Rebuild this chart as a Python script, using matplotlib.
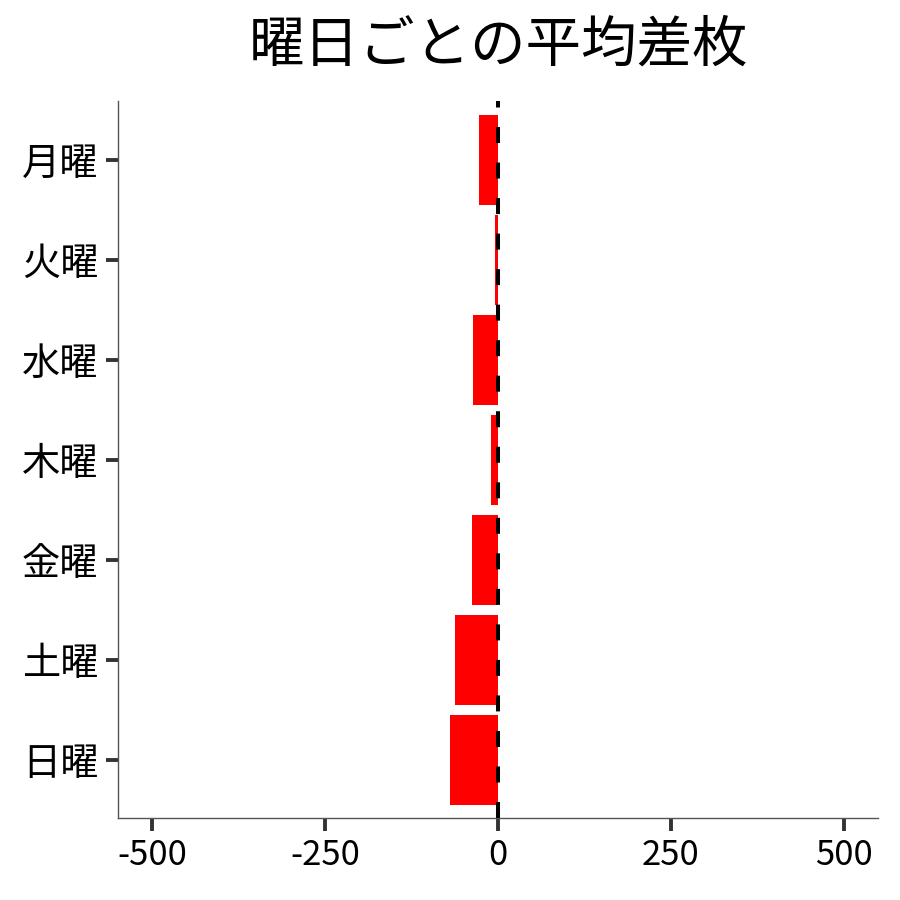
import matplotlib
matplotlib.use("Agg")
import matplotlib.pyplot as plt

plt.rcParams['font.family'] = ['Noto Sans CJK JP', 'DejaVu Sans']

# 曜日ごとの平均差枚
曜日 = ['月曜', '火曜', '水曜', '木曜', '金曜', '土曜', '日曜']
平均差枚 = [-28, -5, -36.5, -10, -38.5, -63, -70]
目盛 = [-500, -250, 0, 250, 500]

fig, ax = plt.subplots(figsize=(9, 9), dpi=100)
fig.subplots_adjust(left=0.131, right=0.976, top=0.888, bottom=0.091)

pos = list(range(len(曜日)))
ax.barh(pos, 平均差枚, height=0.9, color='#ff0000', zorder=2)
# 0の基準線 (破線)
ax.axvline(0, color='black', linestyle=(0, (3.97, 4.85)), linewidth=2.9, zorder=3)

ax.set_yticks(pos)
ax.set_yticklabels(曜日, fontsize=27.5)
ax.set_ylim(6.58, -0.59)
ax.set_xlim(-550, 550)
ax.set_xticks(目盛)
ax.set_xticklabels([str(v) for v in 目盛], fontsize=25)

for s in ['top', 'right']:
    ax.spines[s].set_visible(False)
for s in ['left', 'bottom']:
    ax.spines[s].set_color('#555555')
    ax.spines[s].set_linewidth(1.0)
ax.tick_params(axis='both', colors='#333333', length=9, width=2.8,
               labelcolor='black', pad=5)

ax.set_title('曜日ごとの平均差枚', fontsize=40, pad=28)

fig.savefig('out.png')
